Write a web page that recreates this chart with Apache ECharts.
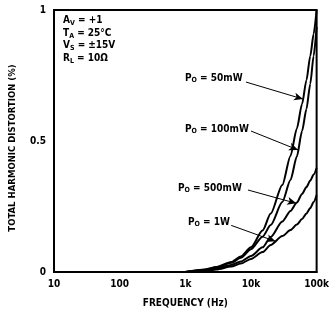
<!DOCTYPE html>
<html>
<head>
<meta charset="utf-8">
<script src="https://cdn.jsdelivr.net/npm/echarts@6.0.0/dist/echarts.min.js"></script>
<style>
  * { margin: 0; padding: 0; }
  body { background: #fff; }
  #chart { width: 332px; height: 318px; }
</style>
</head>
<body>
<div id="chart"></div>
<script>
// frequency (Hz) / THD (%)
const freqs = [1000, 2000, 3000, 5000, 7000, 10000, 15000, 20000, 30000, 40000, 50000, 60000, 70000, 80000, 90000, 100000];
const thd50 = [0, 0.010, 0.019, 0.038, 0.059, 0.094, 0.158, 0.223, 0.332, 0.443, 0.548, 0.641, 0.732, 0.824, 0.908, 1.0];
const thd100 = [0, 0.009, 0.018, 0.035, 0.054, 0.087, 0.135, 0.179, 0.267, 0.351, 0.441, 0.538, 0.622, 0.718, 0.824, 0.935];
const thd500 = [0, 0.006, 0.013, 0.027, 0.040, 0.061, 0.094, 0.134, 0.193, 0.233, 0.265, 0.298, 0.324, 0.349, 0.372, 0.397];
const thd1w = [0, 0.004, 0.010, 0.021, 0.032, 0.050, 0.076, 0.103, 0.137, 0.160, 0.181, 0.202, 0.223, 0.244, 0.267, 0.294];

const xTicks = { 10: '10', 100: '100', 1000: '1k', 10000: '10k', 100000: '100k' };
const yTicks = { 0: '0', 0.5: '0.5', 1: '1' };

// arrow start -> tip, in data coords
const arrows = {
  p50: [[8400, 0.725], [62000, 0.66]],
  p100: [[10000, 0.538], [52000, 0.466]],
  p500: [[9000, 0.313], [49000, 0.262]],
  p1w: [[5000, 0.178], [23600, 0.117]]
};

const FONT = 'DejaVu Sans Condensed';
const pairs = (xs, ys) => xs.map((x, i) => [x, ys[i]]);

function curve(name, ys, arrow) {
  return {
    name: name,
    type: 'line',
    data: pairs(freqs, ys),
    smooth: 0.25,
    smoothMonotone: 'x',
    showSymbol: false,
    lineStyle: { color: '#000', width: 2 },
    markLine: {
      silent: true,
      symbol: ['none', 'arrow'],
      symbolSize: [6, 9],
      label: { show: false },
      lineStyle: { color: '#000', width: 1, type: 'solid' },
      data: [[{ coord: arrow[0] }, { coord: arrow[1] }]]
    }
  };
}

const rich = {
  m: { fontFamily: FONT, fontSize: 10, fontWeight: 'bold', color: '#000', lineHeight: 12, verticalAlign: 'middle' },
  s: { fontFamily: FONT, fontSize: 7, fontWeight: 'bold', color: '#000', lineHeight: 12, verticalAlign: 'bottom', padding: [5, 0, 0, 0] }
};

function label(text, x, y) {
  return {
    type: 'text', left: x, top: y,
    style: { text: text, rich: rich }
  };
}

const chart = echarts.init(document.getElementById('chart'));
chart.setOption({
  animation: false,
  grid: { left: 52, right: 12, top: 10, bottom: 46, show: true, borderColor: '#000', borderWidth: 2 },
  xAxis: {
    type: 'log', logBase: 10, min: 10, max: 100000,
    name: 'FREQUENCY (Hz)', nameLocation: 'middle', nameGap: 26,
    nameTextStyle: { fontFamily: FONT, fontSize: 10, fontWeight: 'bold', color: '#000' },
    axisLine: { lineStyle: { color: '#000', width: 2 } },
    axisTick: { show: false },
    minorTick: { show: false },
    splitLine: { show: false },
    axisLabel: {
      fontFamily: FONT, fontSize: 10, fontWeight: 'bold', color: '#000', margin: 7,
      formatter: v => xTicks[Math.round(v)] || ''
    }
  },
  yAxis: {
    type: 'value', min: 0, max: 1, interval: 0.5,
    name: 'TOTAL HARMONIC DISTORTION (%)', nameLocation: 'middle', nameGap: 36, nameRotate: 90,
    nameTextStyle: { fontFamily: FONT, fontSize: 9.5, fontWeight: 'bold', color: '#000', padding: [0, 14, 0, 0] },
    axisLine: { show: true, lineStyle: { color: '#000', width: 2 } },
    axisTick: { show: false },
    splitLine: { show: false },
    axisLabel: {
      fontFamily: FONT, fontSize: 10, fontWeight: 'bold', color: '#000', margin: 8,
      formatter: v => yTicks[v] !== undefined ? yTicks[v] : ''
    }
  },
  series: [
    curve('50mW', thd50, arrows.p50),
    curve('100mW', thd100, arrows.p100),
    curve('500mW', thd500, arrows.p500),
    curve('1W', thd1w, arrows.p1w)
  ],
  graphic: [
    {
      type: 'text', left: 63, top: 15,
      style: {
        text: '{m|A}{s|V}{m| = +1}\n{m|T}{s|A}{m| = 25°C}\n{m|V}{s|S}{m| = ±15V}\n{m|R}{s|L}{m| = 10Ω}',
        rich: {
          m: Object.assign({}, rich.m, { lineHeight: 12.5 }),
          s: Object.assign({}, rich.s, { lineHeight: 12.5 })
        }
      }
    },
    label('{m|P}{s|O}{m| = 50mW}', 185, 72),
    label('{m|P}{s|O}{m| = 100mW}', 185, 123),
    label('{m|P}{s|O}{m| = 500mW}', 178, 182),
    label('{m|P}{s|O}{m| = 1W}', 188, 216)
  ]
});
</script>
</body>
</html>
